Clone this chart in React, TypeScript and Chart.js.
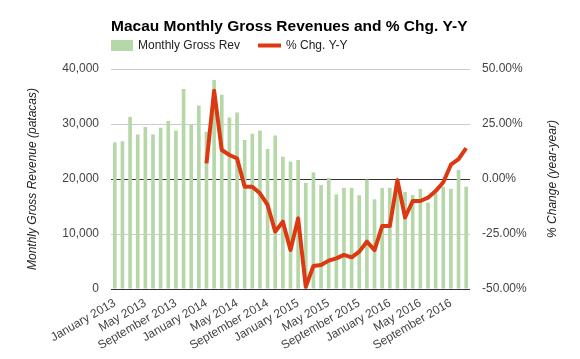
import React, { useEffect, useRef } from 'react';
import { Chart, registerables } from 'chart.js';

Chart.register(...registerables);

const TITLE = 'Macau Monthly Gross Revenues and % Chg. Y-Y';
const BAR_LABEL = 'Monthly Gross Rev';
const LINE_LABEL = '% Chg. Y-Y';
const LEFT_AXIS_TITLE = 'Monthly Gross Revenue (patacas)';
const RIGHT_AXIS_TITLE = '% Change (year-year)';

const CATEGORIES = [
  'January 2013', 'February 2013', 'March 2013', 'April 2013', 'May 2013', 'June 2013',
  'July 2013', 'August 2013', 'September 2013', 'October 2013', 'November 2013', 'December 2013',
  'January 2014', 'February 2014', 'March 2014', 'April 2014', 'May 2014', 'June 2014',
  'July 2014', 'August 2014', 'September 2014', 'October 2014', 'November 2014', 'December 2014',
  'January 2015', 'February 2015', 'March 2015', 'April 2015', 'May 2015', 'June 2015',
  'July 2015', 'August 2015', 'September 2015', 'October 2015', 'November 2015', 'December 2015',
  'January 2016', 'February 2016', 'March 2016', 'April 2016', 'May 2016', 'June 2016',
  'July 2016', 'August 2016', 'September 2016', 'October 2016', 'November 2016',
];

const GROSS_REV = [
  26700, 26850, 31300, 28100, 29450, 28100, 29300, 30550, 28800, 36350, 29950, 33350,
  28600, 38000, 35300, 31200, 32100, 27100, 28250, 28800, 25450, 27900, 24050, 23150,
  23450, 19300, 21200, 18900, 20200, 17200, 18400, 18400, 17050, 19900, 16300, 18350,
  18400, 18700, 17650, 17100, 18200, 15700, 17400, 18600, 18200, 21650, 18600,
];

const PCT_CHG = [
  null, null, null, null, null, null, null, null, null, null, null, null,
  7.1, 40.1, 13.2, 10.9, 9.4, -3.5, -3.5, -6.5, -11.8, -23.9, -19.4, -32.3,
  -17.9, -49.0, -39.5, -39.1, -37.1, -36.1, -34.5, -35.6, -33.0, -28.5, -32.3, -21.4,
  -21.4, -0.5, -17.5, -10.0, -10.0, -8.5, -5.5, -1.5, 6.5, 9.0, 14.0,
];

const LEFT_TICKS = [0, 10000, 20000, 30000, 40000];
const RIGHT_TICKS = [-50, -25, 0, 25, 50];
const LABEL_EVERY = 4;

const BAR_COLOR = '#b6d7a8';
const LINE_COLOR = '#dc3912';
const FONT = '"Liberation Sans", Arial, sans-serif';

const headerPlugin = {
  id: 'header',
  afterDraw(chart: any) {
    const { ctx, chartArea } = chart;
    const x0 = chartArea.left;
    ctx.save();
    ctx.textAlign = 'left';
    ctx.textBaseline = 'alphabetic';
    ctx.fillStyle = '#000';
    ctx.font = `bold 15.5px ${FONT}`;
    ctx.fillText(TITLE, x0, 30.5);

    ctx.fillStyle = BAR_COLOR;
    ctx.fillRect(x0, 40, 22, 11);
    ctx.font = `12px ${FONT}`;
    ctx.fillStyle = '#222';
    ctx.textBaseline = 'middle';
    const tx = x0 + 27;
    ctx.fillText(BAR_LABEL, tx, 46);
    const w = ctx.measureText(BAR_LABEL).width;
    const lx = tx + w + 18;
    ctx.strokeStyle = LINE_COLOR;
    ctx.lineWidth = 4;
    ctx.beginPath();
    ctx.moveTo(lx, 45.5);
    ctx.lineTo(lx + 23, 45.5);
    ctx.stroke();
    ctx.fillText(LINE_LABEL, lx + 28, 46);

    // right axis title, reading bottom-to-top
    ctx.font = `italic 12px ${FONT}`;
    ctx.fillStyle = '#222';
    ctx.textAlign = 'center';
    ctx.textBaseline = 'middle';
    ctx.translate(553, (chartArea.top + chartArea.bottom) / 2);
    ctx.rotate(-Math.PI / 2);
    ctx.fillText(RIGHT_AXIS_TITLE, 0, 0);
    ctx.restore();
  },
};

export default function App() {
  const ref = useRef<HTMLCanvasElement>(null);

  useEffect(() => {
    if (!ref.current) return;
    Chart.defaults.font.family = FONT;
    const chart = new Chart(ref.current, {
      type: 'bar',
      data: {
        labels: CATEGORIES,
        datasets: [
          {
            type: 'line',
            label: LINE_LABEL,
            data: PCT_CHG as any,
            yAxisID: 'y1',
            borderColor: LINE_COLOR,
            backgroundColor: LINE_COLOR,
            borderWidth: 4,
            pointRadius: 0,
            tension: 0,
            borderJoinStyle: 'round',
            borderCapStyle: 'butt',
            spanGaps: false,
            order: 0,
          } as any,
          {
            type: 'bar',
            label: BAR_LABEL,
            data: GROSS_REV,
            yAxisID: 'y',
            backgroundColor: BAR_COLOR,
            borderWidth: 0,
            barPercentage: 0.48,
            categoryPercentage: 1,
            order: 1,
          },
        ],
      },
      options: {
        responsive: false,
        animation: false,
        layout: { padding: { top: 69, left: 0, right: 0, bottom: 0 } },
        plugins: {
          legend: { display: false },
          title: { display: false },
          tooltip: { enabled: false },
        },
        scales: {
          x: {
            type: 'category',
            offset: true,
            grid: { display: false, drawTicks: false },
            border: { display: false },
            ticks: {
              autoSkip: false,
              minRotation: 30,
              maxRotation: 30,
              padding: 7,
              color: '#444',
              font: { size: 12 },
              callback: (_v: any, i: number) => (i % LABEL_EVERY === 0 ? CATEGORIES[i] : ''),
            },
            afterFit: (s: any) => {
              s.height = 70;
            },
          },
          y: {
            position: 'left',
            min: LEFT_TICKS[0],
            max: LEFT_TICKS[LEFT_TICKS.length - 1],
            afterBuildTicks: (s: any) => {
              s.ticks = LEFT_TICKS.map((v) => ({ value: v }));
            },
            ticks: {
              padding: 12,
              color: '#444',
              font: { size: 12 },
              callback: (v: any) => Number(v).toLocaleString('en-US'),
            },
            grid: {
              drawTicks: false,
              color: (c: any) => (c.tick && (c.tick.value === 0 || c.tick.value === 20000) ? '#333' : '#ccc'),
            },
            border: { display: false },
            title: {
              display: true,
              text: LEFT_AXIS_TITLE,
              color: '#222',
              font: { size: 12, style: 'italic' },
              padding: { top: 25, bottom: 0 },
            },
            afterFit: (s: any) => {
              s.width = 111;
            },
          },
          y1: {
            position: 'right',
            min: RIGHT_TICKS[0],
            max: RIGHT_TICKS[RIGHT_TICKS.length - 1],
            afterBuildTicks: (s: any) => {
              s.ticks = RIGHT_TICKS.map((v) => ({ value: v }));
            },
            ticks: {
              padding: 12,
              color: '#444',
              font: { size: 12 },
              callback: (v: any) => Number(v).toFixed(2) + '%',
            },
            grid: { display: false, drawTicks: false },
            border: { display: false },
            title: { display: false },
            afterFit: (s: any) => {
              s.width = 110;
            },
          },
        },
      },
      plugins: [headerPlugin],
    });
    return () => chart.destroy();
  }, []);

  return (
    <div style={{ position: 'absolute', left: 0, top: 0, width: 580, height: 359, background: '#fff' }}>
      <canvas ref={ref} width={580} height={359} style={{ display: 'block' }} />
    </div>
  );
}
